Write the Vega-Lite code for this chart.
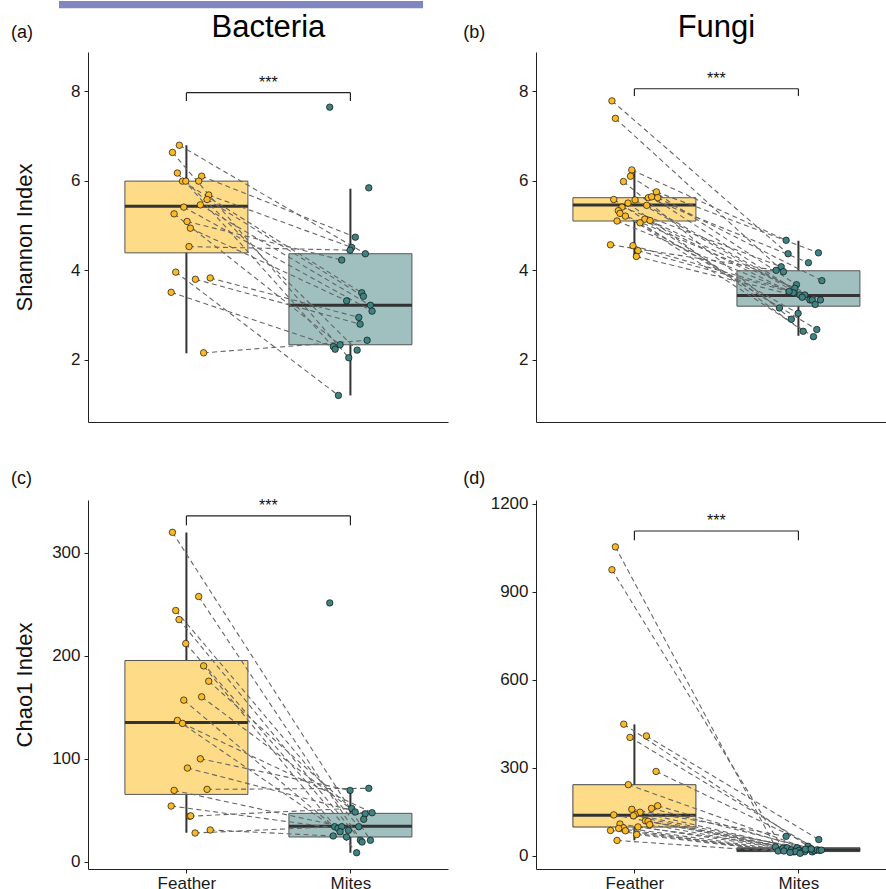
{
"$schema": "https://vega.github.io/schema/vega-lite/v6.json",
"background": "white",
"padding": {"left": 10, "top": 0, "right": 0, "bottom": 0},
"bounds": "flush",
"columns": 2,
"spacing": {"row": 78, "column": 88},
"config": {
  "view": {"stroke": null},
  "font": "Liberation Sans",
  "axis": {"grid": false, "domainColor": "#222", "domainWidth": 1, "tickColor": "#222", "tickWidth": 1, "tickSize": 4, "labelFontSize": 17, "labelColor": "#1a1a1a", "labelPadding": 4, "labelFlush": false, "labelFont": "Liberation Sans", "titleFont": "Liberation Sans", "titleFontSize": 22, "titleFontWeight": "normal", "titleColor": "#111"}
},
"datasets": {
  "boxA": [
    {"group": "Feather", "g": 1, "lower": 2.15, "q1": 4.39, "median": 5.43, "q3": 5.99, "upper": 6.79},
    {"group": "Mites", "g": 2, "lower": 1.21, "q1": 2.34, "median": 3.22, "q3": 4.37, "upper": 5.82}
  ],
  "boxB": [
    {"group": "Feather", "g": 1, "lower": 4.28, "q1": 5.10, "median": 5.46, "q3": 5.62, "upper": 6.24},
    {"group": "Mites", "g": 2, "lower": 2.54, "q1": 3.20, "median": 3.44, "q3": 3.99, "upper": 4.66}
  ],
  "boxC": [
    {"group": "Feather", "g": 1, "lower": 28.2, "q1": 65.4, "median": 135.3, "q3": 195.5, "upper": 320},
    {"group": "Mites", "g": 2, "lower": 8.7, "q1": 24, "median": 34.4, "q3": 47, "upper": 69.9}
  ],
  "boxD": [
    {"group": "Feather", "g": 1, "lower": 53.4, "q1": 98.7, "median": 138.6, "q3": 242.8, "upper": 448.4},
    {"group": "Mites", "g": 2, "lower": 9, "q1": 15, "median": 21, "q3": 28, "upper": 33}
  ],
  "ptsA": [
    {"id":"p1","group":"Feather","pos":0.957,"value":6.79},
    {"id":"p2","group":"Feather","pos":0.915,"value":6.63},
    {"id":"p3","group":"Feather","pos":0.945,"value":6.17},
    {"id":"p4","group":"Feather","pos":1.093,"value":6.10},
    {"id":"p5","group":"Feather","pos":0.976,"value":5.99},
    {"id":"p6","group":"Feather","pos":0.996,"value":5.99},
    {"id":"p7","group":"Feather","pos":1.075,"value":5.99},
    {"id":"p8","group":"Feather","pos":1.136,"value":5.68},
    {"id":"p9","group":"Feather","pos":1.126,"value":5.58},
    {"id":"p10","group":"Feather","pos":1.085,"value":5.46},
    {"id":"p11","group":"Feather","pos":0.984,"value":5.41},
    {"id":"p12","group":"Feather","pos":0.925,"value":5.26},
    {"id":"p13","group":"Feather","pos":1.004,"value":5.09},
    {"id":"p14","group":"Feather","pos":1.024,"value":4.94},
    {"id":"p15","group":"Feather","pos":1.016,"value":4.53},
    {"id":"p16","group":"Feather","pos":0.935,"value":3.96},
    {"id":"p17","group":"Feather","pos":1.055,"value":3.80},
    {"id":"p18","group":"Feather","pos":1.145,"value":3.83},
    {"id":"p19","group":"Feather","pos":0.907,"value":3.51},
    {"id":"p20","group":"Feather","pos":1.105,"value":2.16},
    {"id":"u1","group":"Mites","pos":1.874,"value":7.64},
    {"id":"u2","group":"Mites","pos":2.112,"value":5.84},
    {"id":"p4","group":"Mites","pos":2.030,"value":4.74},
    {"id":"p8","group":"Mites","pos":2.008,"value":4.51},
    {"id":"p15","group":"Mites","pos":1.998,"value":4.45},
    {"id":"p1","group":"Mites","pos":2.091,"value":4.37},
    {"id":"p13","group":"Mites","pos":1.947,"value":4.23},
    {"id":"p5","group":"Mites","pos":2.069,"value":3.50},
    {"id":"p9","group":"Mites","pos":2.079,"value":3.42},
    {"id":"p14","group":"Mites","pos":1.977,"value":3.32},
    {"id":"p10","group":"Mites","pos":2.122,"value":3.22},
    {"id":"p11","group":"Mites","pos":2.132,"value":3.09},
    {"id":"p18","group":"Mites","pos":2.051,"value":2.95},
    {"id":"p17","group":"Mites","pos":2.059,"value":2.80},
    {"id":"p20","group":"Mites","pos":2.102,"value":2.44},
    {"id":"p12","group":"Mites","pos":1.937,"value":2.34},
    {"id":"p19","group":"Mites","pos":1.896,"value":2.30},
    {"id":"p3","group":"Mites","pos":1.907,"value":2.24},
    {"id":"p6","group":"Mites","pos":2.041,"value":2.22},
    {"id":"p2","group":"Mites","pos":1.990,"value":2.05},
    {"id":"p16","group":"Mites","pos":1.927,"value":1.21}
  ],
  "ptsB": [
    {"id":"f1","group":"Feather","pos":0.863,"value":7.78},
    {"id":"f2","group":"Feather","pos":0.884,"value":7.39},
    {"id":"f3","group":"Feather","pos":0.984,"value":6.24},
    {"id":"f4","group":"Feather","pos":0.976,"value":6.10},
    {"id":"f5","group":"Feather","pos":0.933,"value":5.98},
    {"id":"f6","group":"Feather","pos":1.134,"value":5.75},
    {"id":"f7","group":"Feather","pos":0.874,"value":5.58},
    {"id":"f8","group":"Feather","pos":1.004,"value":5.57},
    {"id":"f9","group":"Feather","pos":1.085,"value":5.62},
    {"id":"f10","group":"Feather","pos":1.105,"value":5.64},
    {"id":"f11","group":"Feather","pos":1.142,"value":5.62},
    {"id":"f12","group":"Feather","pos":0.961,"value":5.50},
    {"id":"f13","group":"Feather","pos":1.075,"value":5.45},
    {"id":"f14","group":"Feather","pos":0.924,"value":5.41},
    {"id":"f15","group":"Feather","pos":0.902,"value":5.33},
    {"id":"f16","group":"Feather","pos":0.912,"value":5.27},
    {"id":"f17","group":"Feather","pos":0.945,"value":5.21},
    {"id":"f18","group":"Feather","pos":0.894,"value":5.10},
    {"id":"f19","group":"Feather","pos":1.063,"value":5.14},
    {"id":"f20","group":"Feather","pos":1.095,"value":5.11},
    {"id":"f21","group":"Feather","pos":1.034,"value":5.06},
    {"id":"f22","group":"Feather","pos":0.854,"value":4.57},
    {"id":"f23","group":"Feather","pos":0.991,"value":4.55},
    {"id":"f24","group":"Feather","pos":1.022,"value":4.44},
    {"id":"f25","group":"Feather","pos":1.012,"value":4.31},
    {"id":"f3","group":"Mites","pos":1.925,"value":4.67},
    {"id":"f1","group":"Mites","pos":1.937,"value":4.37},
    {"id":"f6","group":"Mites","pos":2.122,"value":4.39},
    {"id":"f9","group":"Mites","pos":2.061,"value":4.17},
    {"id":"f14","group":"Mites","pos":1.895,"value":4.08},
    {"id":"f22","group":"Mites","pos":1.864,"value":4.00},
    {"id":"f2","group":"Mites","pos":1.909,"value":3.97},
    {"id":"f11","group":"Mites","pos":2.143,"value":3.77},
    {"id":"f4","group":"Mites","pos":1.988,"value":3.68},
    {"id":"f16","group":"Mites","pos":1.978,"value":3.60},
    {"id":"f24","group":"Mites","pos":1.968,"value":3.50},
    {"id":"f8","group":"Mites","pos":2.009,"value":3.45},
    {"id":"f23","group":"Mites","pos":2.039,"value":3.45},
    {"id":"f10","group":"Mites","pos":2.070,"value":3.34},
    {"id":"f13","group":"Mites","pos":2.084,"value":3.34},
    {"id":"f20","group":"Mites","pos":2.134,"value":3.34},
    {"id":"f19","group":"Mites","pos":2.102,"value":3.24},
    {"id":"f7","group":"Mites","pos":1.884,"value":3.16},
    {"id":"f17","group":"Mites","pos":1.998,"value":3.04},
    {"id":"f5","group":"Mites","pos":1.957,"value":2.91},
    {"id":"f12","group":"Mites","pos":2.029,"value":2.64},
    {"id":"f21","group":"Mites","pos":2.112,"value":2.68},
    {"id":"f15","group":"Mites","pos":2.092,"value":2.52},
    {"id":"f25","group":"Mites","pos":2.023,"value":3.40},
    {"id":"f18","group":"Mites","pos":1.943,"value":3.53}
  ],
  "ptsC": [
    {"id":"c1","group":"Feather","pos":0.915,"value":320.1},
    {"id":"c2","group":"Feather","pos":1.075,"value":257.7},
    {"id":"c3","group":"Feather","pos":0.935,"value":244.1},
    {"id":"c4","group":"Feather","pos":0.955,"value":235.3},
    {"id":"c5","group":"Feather","pos":0.996,"value":212},
    {"id":"c6","group":"Feather","pos":1.105,"value":190.3},
    {"id":"c7","group":"Feather","pos":1.136,"value":175.4},
    {"id":"c8","group":"Feather","pos":1.093,"value":160.2},
    {"id":"c9","group":"Feather","pos":0.984,"value":157},
    {"id":"c10","group":"Feather","pos":0.945,"value":137.3},
    {"id":"c11","group":"Feather","pos":0.976,"value":134.4},
    {"id":"c12","group":"Feather","pos":1.085,"value":100},
    {"id":"c13","group":"Feather","pos":1.006,"value":91},
    {"id":"c14","group":"Feather","pos":0.925,"value":69.3},
    {"id":"c15","group":"Feather","pos":1.126,"value":70.3},
    {"id":"c16","group":"Feather","pos":0.907,"value":54.1},
    {"id":"c17","group":"Feather","pos":1.020,"value":44.1},
    {"id":"c18","group":"Feather","pos":1.026,"value":44.5},
    {"id":"c19","group":"Feather","pos":1.053,"value":27.9},
    {"id":"c20","group":"Feather","pos":1.145,"value":30.8},
    {"id":"cu1","group":"Mites","pos":1.874,"value":251.5},
    {"id":"c12","group":"Mites","pos":1.998,"value":69.3},
    {"id":"c15","group":"Mites","pos":2.112,"value":71.3},
    {"id":"c17","group":"Mites","pos":2.008,"value":51.8},
    {"id":"c8","group":"Mites","pos":2.029,"value":48.3},
    {"id":"c13","group":"Mites","pos":2.090,"value":46.6},
    {"id":"c11","group":"Mites","pos":2.132,"value":47.6},
    {"id":"c7","group":"Mites","pos":2.081,"value":41.2},
    {"id":"c3","group":"Mites","pos":2.051,"value":34},
    {"id":"c19","group":"Mites","pos":1.904,"value":34},
    {"id":"c16","group":"Mites","pos":1.925,"value":32.4},
    {"id":"c14","group":"Mites","pos":1.947,"value":34},
    {"id":"c10","group":"Mites","pos":1.937,"value":29.1},
    {"id":"c5","group":"Mites","pos":1.988,"value":30.5},
    {"id":"c20","group":"Mites","pos":1.895,"value":25},
    {"id":"c9","group":"Mites","pos":1.976,"value":24},
    {"id":"c4","group":"Mites","pos":2.061,"value":20.8},
    {"id":"c2","group":"Mites","pos":2.071,"value":19.1},
    {"id":"c1","group":"Mites","pos":2.122,"value":20.8},
    {"id":"c6","group":"Mites","pos":2.038,"value":8.7}
  ],
  "ptsD": [
    {"id":"d1","group":"Feather","pos":0.884,"value":1053},
    {"id":"d2","group":"Feather","pos":0.863,"value":975},
    {"id":"d3","group":"Feather","pos":0.935,"value":449},
    {"id":"d4","group":"Feather","pos":0.973,"value":404},
    {"id":"d5","group":"Feather","pos":1.073,"value":409},
    {"id":"d6","group":"Feather","pos":1.132,"value":288},
    {"id":"d7","group":"Feather","pos":0.963,"value":243},
    {"id":"d8","group":"Feather","pos":1.104,"value":162},
    {"id":"d9","group":"Feather","pos":1.142,"value":171},
    {"id":"d10","group":"Feather","pos":0.984,"value":159},
    {"id":"d11","group":"Feather","pos":1.034,"value":149},
    {"id":"d12","group":"Feather","pos":1.004,"value":141},
    {"id":"d13","group":"Feather","pos":0.994,"value":137},
    {"id":"d14","group":"Feather","pos":0.874,"value":140},
    {"id":"d15","group":"Feather","pos":1.067,"value":120},
    {"id":"d16","group":"Feather","pos":1.083,"value":118},
    {"id":"d17","group":"Feather","pos":1.093,"value":107},
    {"id":"d18","group":"Feather","pos":1.022,"value":99},
    {"id":"d19","group":"Feather","pos":0.912,"value":109},
    {"id":"d20","group":"Feather","pos":0.933,"value":96},
    {"id":"d21","group":"Feather","pos":0.904,"value":94},
    {"id":"d22","group":"Feather","pos":0.945,"value":86},
    {"id":"d23","group":"Feather","pos":0.854,"value":87},
    {"id":"d24","group":"Feather","pos":1.014,"value":73},
    {"id":"d25","group":"Feather","pos":0.894,"value":53},
    {"id":"d10","group":"Mites","pos":1.925,"value":67},
    {"id":"d5","group":"Mites","pos":2.124,"value":56},
    {"id":"d1","group":"Mites","pos":1.860,"value":31},
    {"id":"d21","group":"Mites","pos":1.876,"value":17},
    {"id":"d2","group":"Mites","pos":1.905,"value":26},
    {"id":"d14","group":"Mites","pos":1.931,"value":28},
    {"id":"d19","group":"Mites","pos":1.957,"value":21},
    {"id":"d22","group":"Mites","pos":1.972,"value":14},
    {"id":"d12","group":"Mites","pos":1.992,"value":28},
    {"id":"d15","group":"Mites","pos":2.002,"value":19},
    {"id":"d17","group":"Mites","pos":2.023,"value":14},
    {"id":"d13","group":"Mites","pos":2.039,"value":15},
    {"id":"d3","group":"Mites","pos":2.059,"value":33},
    {"id":"d7","group":"Mites","pos":2.067,"value":23},
    {"id":"d11","group":"Mites","pos":2.084,"value":14},
    {"id":"d9","group":"Mites","pos":2.098,"value":18},
    {"id":"d4","group":"Mites","pos":2.114,"value":21},
    {"id":"d8","group":"Mites","pos":2.128,"value":19},
    {"id":"d6","group":"Mites","pos":2.140,"value":20},
    {"id":"d23","group":"Mites","pos":1.911,"value":17},
    {"id":"d20","group":"Mites","pos":1.983,"value":15},
    {"id":"d18","group":"Mites","pos":2.043,"value":23},
    {"id":"d25","group":"Mites","pos":1.949,"value":12},
    {"id":"d24","group":"Mites","pos":2.010,"value":9},
    {"id":"d16","group":"Mites","pos":2.078,"value":24}
  ]
},
"concat": [
{
  "width": 360, "height": 370,
  "layer": [
    {"data": {"name": "boxA"}, "mark": {"type": "rule", "color": "#333", "strokeWidth": 2},
     "encoding": {"x": {"field": "g", "type": "quantitative", "scale": {"domain": [0.4, 2.595], "nice": false, "zero": false, "padding": 0}, "axis": {"values": [1, 2], "labels": false, "ticks": false, "title": null}},
                  "y": {"field": "lower", "type": "quantitative", "scale": {"domain": [0.617, 8.87], "nice": false, "zero": false, "padding": 0}, "axis": {"values": [2, 4, 6, 8], "format": "d", "title": "Shannon Index", "titleX": -64, "titleY": 185, "titleAngle": -90, "titleAlign": "center", "titleBaseline": "middle"}},
                  "y2": {"field": "upper"}}},
    {"data": {"values": [{}]}, "mark": {"type": "rect", "color": "#8087c0"},
     "encoding": {"x": {"datum": 0.223, "type": "quantitative"}, "x2": {"datum": 2.443},
                  "y": {"datum": 10.008, "type": "quantitative"}, "y2": {"datum": 9.845}}},
    {"data": {"name": "boxA"}, "mark": {"type": "bar", "width": 123, "stroke": "#555", "strokeWidth": 1},
     "encoding": {"x": {"field": "g", "type": "quantitative"},
                  "y": {"field": "q1", "type": "quantitative"}, "y2": {"field": "q3"},
                  "fill": {"condition": {"test": "datum.group == 'Feather'", "value": "#FEDB86"}, "value": "#A0BFBF"}}},
    {"data": {"name": "boxA"}, "mark": {"type": "tick", "orient": "horizontal", "size": 123, "thickness": 3, "color": "#333", "opacity": 1},
     "encoding": {"x": {"field": "g", "type": "quantitative"},
                  "y": {"field": "median", "type": "quantitative"}}},
    {"data": {"name": "ptsA"}, "mark": {"type": "line", "color": "#666", "strokeWidth": 1.1, "strokeDash": [5, 3.5]},
     "encoding": {"x": {"field": "pos", "type": "quantitative"},
                  "y": {"field": "value", "type": "quantitative"},
                  "detail": {"field": "id"}}},
    {"data": {"name": "ptsA"}, "mark": {"type": "point", "filled": true, "size": 42, "stroke": "#111", "strokeWidth": 0.7, "opacity": 1},
     "encoding": {"x": {"field": "pos", "type": "quantitative"},
                  "y": {"field": "value", "type": "quantitative"},
                  "fill": {"field": "group", "type": "nominal", "scale": {"domain": ["Feather", "Mites"], "range": ["#FBBA25", "#3F8282"]}, "legend": null}}},
    {"data": {"values": [{}]}, "mark": {"type": "rule", "color": "#222", "strokeWidth": 1.2},
     "encoding": {"x": {"datum": 1, "type": "quantitative"}, "x2": {"datum": 2},
                  "y": {"datum": 7.962, "type": "quantitative"}}},
    {"data": {"values": [{}]}, "mark": {"type": "rule", "color": "#222", "strokeWidth": 1.2},
     "encoding": {"x": {"datum": 1, "type": "quantitative"},
                  "y": {"datum": 7.777, "type": "quantitative"}, "y2": {"datum": 7.962}}},
    {"data": {"values": [{}]}, "mark": {"type": "rule", "color": "#222", "strokeWidth": 1.2},
     "encoding": {"x": {"datum": 2, "type": "quantitative"},
                  "y": {"datum": 7.777, "type": "quantitative"}, "y2": {"datum": 7.962}}},
    {"data": {"values": [{}]}, "mark": {"type": "text", "fontSize": 16, "align": "center", "baseline": "alphabetic", "color": "#111"},
     "encoding": {"x": {"datum": 1.5, "type": "quantitative"},
                  "y": {"datum": 8.07, "type": "quantitative"}, "text": {"value": "***"}}},
    {"data": {"values": [{}]}, "mark": {"type": "text", "fontSize": 31, "align": "center", "baseline": "alphabetic", "color": "#000"},
     "encoding": {"x": {"datum": 1.5, "type": "quantitative"},
                  "y": {"datum": 9.211, "type": "quantitative"}, "text": {"value": "Bacteria"}}},
    {"data": {"values": [{}]}, "mark": {"type": "text", "fontSize": 18, "align": "left", "baseline": "alphabetic", "color": "#111"},
     "encoding": {"x": {"datum": -0.0695, "type": "quantitative"},
                  "y": {"datum": 9.182, "type": "quantitative"}, "text": {"value": "(a)"}}}
  ]
},
{
  "width": 351, "height": 370,
  "layer": [
    {"data": {"name": "boxB"}, "mark": {"type": "rule", "color": "#333", "strokeWidth": 2},
     "encoding": {"x": {"field": "g", "type": "quantitative", "scale": {"domain": [0.4, 2.54], "nice": false, "zero": false, "padding": 0}, "axis": {"values": [1, 2], "labels": false, "ticks": false, "title": null}},
                  "y": {"field": "lower", "type": "quantitative", "scale": {"domain": [0.617, 8.87], "nice": false, "zero": false, "padding": 0}, "axis": {"values": [2, 4, 6, 8], "format": "d", "title": null}},
                  "y2": {"field": "upper"}}},
    {"data": {"name": "boxB"}, "mark": {"type": "bar", "width": 123, "stroke": "#555", "strokeWidth": 1},
     "encoding": {"x": {"field": "g", "type": "quantitative"},
                  "y": {"field": "q1", "type": "quantitative"}, "y2": {"field": "q3"},
                  "fill": {"condition": {"test": "datum.group == 'Feather'", "value": "#FEDB86"}, "value": "#A0BFBF"}}},
    {"data": {"name": "boxB"}, "mark": {"type": "tick", "orient": "horizontal", "size": 123, "thickness": 3, "color": "#333", "opacity": 1},
     "encoding": {"x": {"field": "g", "type": "quantitative"},
                  "y": {"field": "median", "type": "quantitative"}}},
    {"data": {"name": "ptsB"}, "mark": {"type": "line", "color": "#666", "strokeWidth": 1.1, "strokeDash": [5, 3.5]},
     "encoding": {"x": {"field": "pos", "type": "quantitative"},
                  "y": {"field": "value", "type": "quantitative"},
                  "detail": {"field": "id"}}},
    {"data": {"name": "ptsB"}, "mark": {"type": "point", "filled": true, "size": 42, "stroke": "#111", "strokeWidth": 0.7, "opacity": 1},
     "encoding": {"x": {"field": "pos", "type": "quantitative"},
                  "y": {"field": "value", "type": "quantitative"},
                  "fill": {"field": "group", "type": "nominal", "scale": {"domain": ["Feather", "Mites"], "range": ["#FBBA25", "#3F8282"]}, "legend": null}}},
    {"data": {"values": [{}]}, "mark": {"type": "rule", "color": "#222", "strokeWidth": 1.2},
     "encoding": {"x": {"datum": 1, "type": "quantitative"}, "x2": {"datum": 2},
                  "y": {"datum": 8.05, "type": "quantitative"}}},
    {"data": {"values": [{}]}, "mark": {"type": "rule", "color": "#222", "strokeWidth": 1.2},
     "encoding": {"x": {"datum": 1, "type": "quantitative"},
                  "y": {"datum": 7.887, "type": "quantitative"}, "y2": {"datum": 8.05}}},
    {"data": {"values": [{}]}, "mark": {"type": "rule", "color": "#222", "strokeWidth": 1.2},
     "encoding": {"x": {"datum": 2, "type": "quantitative"},
                  "y": {"datum": 7.887, "type": "quantitative"}, "y2": {"datum": 8.05}}},
    {"data": {"values": [{}]}, "mark": {"type": "text", "fontSize": 16, "align": "center", "baseline": "alphabetic", "color": "#111"},
     "encoding": {"x": {"datum": 1.5, "type": "quantitative"},
                  "y": {"datum": 8.167, "type": "quantitative"}, "text": {"value": "***"}}},
    {"data": {"values": [{}]}, "mark": {"type": "text", "fontSize": 31, "align": "center", "baseline": "alphabetic", "color": "#000"},
     "encoding": {"x": {"datum": 1.5, "type": "quantitative"},
                  "y": {"datum": 9.211, "type": "quantitative"}, "text": {"value": "Fungi"}}},
    {"data": {"values": [{}]}, "mark": {"type": "text", "fontSize": 18, "align": "left", "baseline": "alphabetic", "color": "#111"},
     "encoding": {"x": {"datum": -0.043, "type": "quantitative"},
                  "y": {"datum": 9.182, "type": "quantitative"}, "text": {"value": "(b)"}}}
  ]
},
{
  "width": 360, "height": 369,
  "layer": [
    {"data": {"name": "boxC"}, "mark": {"type": "rule", "color": "#333", "strokeWidth": 2},
     "encoding": {"x": {"field": "g", "type": "quantitative", "scale": {"domain": [0.4, 2.595], "nice": false, "zero": false, "padding": 0}, "axis": {"values": [1, 2], "labelExpr": "datum.value == 1 ? 'Feather' : 'Mites'", "labelPadding": 2, "title": null}},
                  "y": {"field": "lower", "type": "quantitative", "scale": {"domain": [-7.1, 351.5], "nice": false, "zero": false, "padding": 0}, "axis": {"values": [0, 100, 200, 300], "format": "d", "title": "Chao1 Index", "titleX": -64, "titleY": 184.5, "titleAngle": -90, "titleAlign": "center", "titleBaseline": "middle"}},
                  "y2": {"field": "upper"}}},
    {"data": {"name": "boxC"}, "mark": {"type": "bar", "width": 123, "stroke": "#555", "strokeWidth": 1},
     "encoding": {"x": {"field": "g", "type": "quantitative"},
                  "y": {"field": "q1", "type": "quantitative"}, "y2": {"field": "q3"},
                  "fill": {"condition": {"test": "datum.group == 'Feather'", "value": "#FEDB86"}, "value": "#A0BFBF"}}},
    {"data": {"name": "boxC"}, "mark": {"type": "tick", "orient": "horizontal", "size": 123, "thickness": 3, "color": "#333", "opacity": 1},
     "encoding": {"x": {"field": "g", "type": "quantitative"},
                  "y": {"field": "median", "type": "quantitative"}}},
    {"data": {"name": "ptsC"}, "mark": {"type": "line", "color": "#666", "strokeWidth": 1.1, "strokeDash": [5, 3.5]},
     "encoding": {"x": {"field": "pos", "type": "quantitative"},
                  "y": {"field": "value", "type": "quantitative"},
                  "detail": {"field": "id"}}},
    {"data": {"name": "ptsC"}, "mark": {"type": "point", "filled": true, "size": 42, "stroke": "#111", "strokeWidth": 0.7, "opacity": 1},
     "encoding": {"x": {"field": "pos", "type": "quantitative"},
                  "y": {"field": "value", "type": "quantitative"},
                  "fill": {"field": "group", "type": "nominal", "scale": {"domain": ["Feather", "Mites"], "range": ["#FBBA25", "#3F8282"]}, "legend": null}}},
    {"data": {"values": [{}]}, "mark": {"type": "rule", "color": "#222", "strokeWidth": 1.2},
     "encoding": {"x": {"datum": 1, "type": "quantitative"}, "x2": {"datum": 2},
                  "y": {"datum": 336.0, "type": "quantitative"}}},
    {"data": {"values": [{}]}, "mark": {"type": "rule", "color": "#222", "strokeWidth": 1.2},
     "encoding": {"x": {"datum": 1, "type": "quantitative"},
                  "y": {"datum": 326.9, "type": "quantitative"}, "y2": {"datum": 336.0}}},
    {"data": {"values": [{}]}, "mark": {"type": "rule", "color": "#222", "strokeWidth": 1.2},
     "encoding": {"x": {"datum": 2, "type": "quantitative"},
                  "y": {"datum": 326.9, "type": "quantitative"}, "y2": {"datum": 336.0}}},
    {"data": {"values": [{}]}, "mark": {"type": "text", "fontSize": 16, "align": "center", "baseline": "alphabetic", "color": "#111"},
     "encoding": {"x": {"datum": 1.5, "type": "quantitative"},
                  "y": {"datum": 340.9, "type": "quantitative"}, "text": {"value": "***"}}},
    {"data": {"values": [{}]}, "mark": {"type": "text", "fontSize": 18, "align": "left", "baseline": "alphabetic", "color": "#111"},
     "encoding": {"x": {"datum": -0.0695, "type": "quantitative"},
                  "y": {"datum": 367.3, "type": "quantitative"}, "text": {"value": "(c)"}}}
  ]
},
{
  "width": 351, "height": 369,
  "layer": [
    {"data": {"name": "boxD"}, "mark": {"type": "rule", "color": "#333", "strokeWidth": 2},
     "encoding": {"x": {"field": "g", "type": "quantitative", "scale": {"domain": [0.4, 2.54], "nice": false, "zero": false, "padding": 0}, "axis": {"values": [1, 2], "labelExpr": "datum.value == 1 ? 'Feather' : 'Mites'", "labelPadding": 2, "title": null}},
                  "y": {"field": "lower", "type": "quantitative", "scale": {"domain": [-44.3, 1212.6], "nice": false, "zero": false, "padding": 0}, "axis": {"values": [0, 300, 600, 900, 1200], "format": "d", "title": null}},
                  "y2": {"field": "upper"}}},
    {"data": {"name": "boxD"}, "mark": {"type": "bar", "width": 123, "stroke": "#444", "strokeWidth": 1},
     "encoding": {"x": {"field": "g", "type": "quantitative"},
                  "y": {"field": "q1", "type": "quantitative"}, "y2": {"field": "q3"},
                  "fill": {"condition": {"test": "datum.group == 'Feather'", "value": "#FEDB86"}, "value": "#A0BFBF"}}},
    {"data": {"name": "boxD"}, "mark": {"type": "tick", "orient": "horizontal", "size": 123, "thickness": 3, "color": "#333", "opacity": 1},
     "encoding": {"x": {"field": "g", "type": "quantitative"},
                  "y": {"field": "median", "type": "quantitative"}}},
    {"data": {"name": "ptsD"}, "mark": {"type": "line", "color": "#666", "strokeWidth": 1.1, "strokeDash": [5, 3.5]},
     "encoding": {"x": {"field": "pos", "type": "quantitative"},
                  "y": {"field": "value", "type": "quantitative"},
                  "detail": {"field": "id"}}},
    {"data": {"name": "ptsD"}, "mark": {"type": "point", "filled": true, "size": 42, "stroke": "#111", "strokeWidth": 0.7, "opacity": 1},
     "encoding": {"x": {"field": "pos", "type": "quantitative"},
                  "y": {"field": "value", "type": "quantitative"},
                  "fill": {"field": "group", "type": "nominal", "scale": {"domain": ["Feather", "Mites"], "range": ["#FBBA25", "#3F8282"]}, "legend": null}}},
    {"data": {"values": [{}]}, "mark": {"type": "rule", "color": "#222", "strokeWidth": 1.2},
     "encoding": {"x": {"datum": 1, "type": "quantitative"}, "x2": {"datum": 2},
                  "y": {"datum": 1107, "type": "quantitative"}}},
    {"data": {"values": [{}]}, "mark": {"type": "rule", "color": "#222", "strokeWidth": 1.2},
     "encoding": {"x": {"datum": 1, "type": "quantitative"},
                  "y": {"datum": 1075.4, "type": "quantitative"}, "y2": {"datum": 1107}}},
    {"data": {"values": [{}]}, "mark": {"type": "rule", "color": "#222", "strokeWidth": 1.2},
     "encoding": {"x": {"datum": 2, "type": "quantitative"},
                  "y": {"datum": 1075.4, "type": "quantitative"}, "y2": {"datum": 1107}}},
    {"data": {"values": [{}]}, "mark": {"type": "text", "fontSize": 16, "align": "center", "baseline": "alphabetic", "color": "#111"},
     "encoding": {"x": {"datum": 1.5, "type": "quantitative"},
                  "y": {"datum": 1123.4, "type": "quantitative"}, "text": {"value": "***"}}},
    {"data": {"values": [{}]}, "mark": {"type": "text", "fontSize": 18, "align": "left", "baseline": "alphabetic", "color": "#111"},
     "encoding": {"x": {"datum": -0.043, "type": "quantitative"},
                  "y": {"datum": 1268.1, "type": "quantitative"}, "text": {"value": "(d)"}}}
  ]
}
]
}
